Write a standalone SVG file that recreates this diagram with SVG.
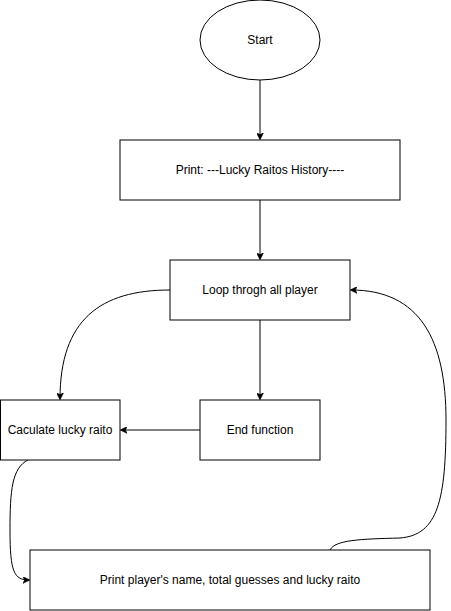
<svg xmlns="http://www.w3.org/2000/svg" width="451" height="611" viewBox="0 0 451 611">
<defs>
<style>
.n{fill:#fff;stroke:#000;stroke-width:1}
.t{font-family:"Liberation Sans",Arial,sans-serif;font-size:12px;fill:#000;text-anchor:middle;dominant-baseline:central}
.c{fill:none;stroke:#000;stroke-width:1}
</style>
<marker id="a" viewBox="0 0 10 10" refX="9" refY="5" markerWidth="7" markerHeight="7" markerUnits="userSpaceOnUse" orient="auto">
<path d="M0,0 L10,5 L0,10 L3,5 Z" fill="#000" stroke="#000"/>
</marker>
</defs>
<rect width="451" height="611" fill="#fff"/>
<g id="connectors">
<path class="c" d="M260,80 L260,139" marker-end="url(#a)"/>
<path class="c" d="M260,200 L260,259" marker-end="url(#a)"/>
<path class="c" d="M170,290 C100,290 60,320 60,399" marker-end="url(#a)"/>
<path class="c" d="M260,320 L260,399" marker-end="url(#a)"/>
<path class="c" d="M200,430 L121,430" marker-end="url(#a)"/>
<path class="c" d="M28,460 C12,468 10,490 10,530 C10,572 14,580 29,580" marker-end="url(#a)"/>
<path class="c" d="M330,550 C335,540 360,539 400,538 C438,535 446,500 446,420 C446,340 420,290 351,290" marker-end="url(#a)"/>
</g>
<g id="start"><ellipse class="n" cx="260" cy="40" rx="60" ry="40"/><text class="t" x="260" y="40">Start</text></g>
<g id="print-history"><rect class="n" x="120" y="140" width="280" height="60"/><text class="t" x="260" y="170">Print: ---Lucky Raitos History----</text></g>
<g id="loop"><rect class="n" x="170" y="260" width="180" height="60"/><text class="t" x="260" y="290">Loop throgh all player</text></g>
<g id="calc"><rect class="n" x="0.5" y="400" width="119.5" height="60"/><text class="t" x="60" y="430">Caculate lucky raito</text></g>
<g id="end"><rect class="n" x="200" y="400" width="120" height="60"/><text class="t" x="260" y="430">End function</text></g>
<g id="print-player"><rect class="n" x="30" y="550" width="400" height="60"/><text class="t" x="230" y="580">Print player's name, total guesses and lucky raito</text></g>
</svg>
